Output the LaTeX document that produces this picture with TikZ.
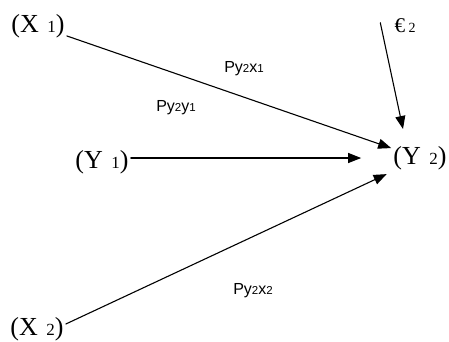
\documentclass[tikz,border=0pt]{standalone}
\usepackage{fontspec}
\setmainfont{Liberation Serif}
\newfontfamily\labfont{Liberation Sans}
\usetikzlibrary{arrows.meta}

\newcommand{\vname}[2]{(#1\,\,{\fontsize{17}{17}\selectfont #2})}
\newcommand{\pcoef}[3]{\labfont P#1{\fontsize{11.5}{11.5}\selectfont 2}#2{\fontsize{11.5}{11.5}\selectfont #3}}

\begin{document}
\begin{tikzpicture}[x=1pt,y=-1pt,line cap=round,
  var/.style={font=\fontsize{26}{26}\selectfont,inner sep=2pt},
  coef/.style={font=\fontsize{16}{16}\selectfont,inner sep=0pt},
  path/.style={line width=1.1pt,-{Triangle[length=13pt,width=10pt]}}]
  \useasboundingbox (0,0) rectangle (449,341);
  % variables
  \node[var] (x1) at (38,26) {\vname{X}{1}};
  \node[var] (y1) at (102,162) {\vname{Y}{1}};
  \node[var] (x2) at (37,329) {\vname{X}{2}};
  \node[var] (y2) at (420,158) {\vname{Y}{2}};
  \node[var,font=\fontsize{21}{21}\selectfont] (e2) at (405,26) {€\,{\fontsize{14}{14}\selectfont 2}};
  % path coefficients
  \node[coef] (pyx1) at (244,69) {\pcoef{y}{x}{1}};
  \node[coef] (pyy1) at (176,108) {\pcoef{y}{y}{1}};
  \node[coef] (pyx2) at (253,291) {\pcoef{y}{x}{2}};
  % arrows
  \draw[path] (x1) -- (y2);
  \draw[path,shorten >=30pt] ([yshift=4pt]y1.east) -- (y2);
  \draw[path,shorten >=5pt] ([yshift=5pt]x2.east) -- (y2.south west);
  \draw[path] ([xshift=-12pt,yshift=-6pt]e2.north west) -- ([xshift=-17pt,yshift=15pt]y2.north);
\end{tikzpicture}
\end{document}
